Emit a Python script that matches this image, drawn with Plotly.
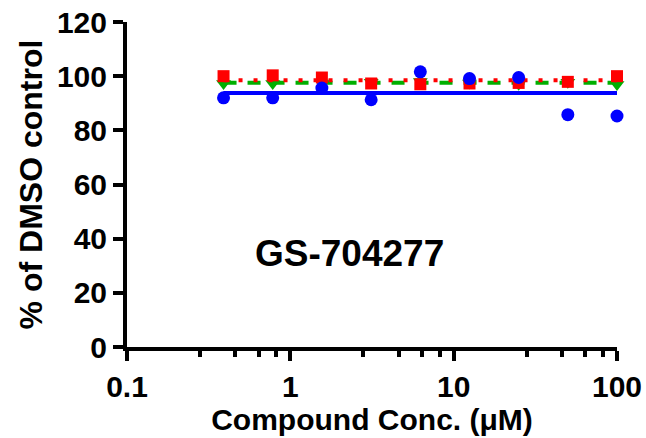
import plotly.graph_objects as go

# Data
conc = [0.39, 0.78, 1.56, 3.125, 6.25, 12.5, 25, 50, 100]
blue_vals = [92.0, 92.0, 95.6, 91.3, 101.6, 99.1, 99.5, 85.8, 85.3]
red_vals = [100.0, 100.3, 99.5, 97.3, 97.0, 97.3, 97.5, 97.9, 100.0]
green_vals = [97.3, 97.3, 97.5, 97.8, 98.0, 97.5, 97.0, 97.8, 96.9]
blue_fit = 93.8
red_fit = 98.5
green_fit = 97.6
fit_x = [0.39, 100]

x_tickvals = [0.1, 1, 10, 100]
x_ticktext = ["0.1", "1", "10", "100"]
x_minor = [d * m for d in [0.1, 1, 10] for m in [2.8, 4.6, 6.4, 8.2]]
y_tickvals = [0, 20, 40, 60, 80, 100, 120]

FONT = "Liberation Sans, Arial, Helvetica, sans-serif"

fig = go.Figure()

fig.add_trace(go.Scatter(x=conc, y=green_vals, mode="markers",
                         marker=dict(symbol="triangle-down", size=13, color="#00B000"),
                         showlegend=False, cliponaxis=False))
fig.add_trace(go.Scatter(x=fit_x, y=[green_fit] * len(fit_x), mode="lines",
                         line=dict(color="#00B000", width=4, dash="13px,11px"),
                         showlegend=False))
fig.add_trace(go.Scatter(x=conc, y=red_vals, mode="markers",
                         marker=dict(symbol="square", size=12, color="#FF0000"),
                         showlegend=False, cliponaxis=False))
fig.add_trace(go.Scatter(x=fit_x, y=[red_fit] * len(fit_x), mode="lines",
                         line=dict(color="#FF0000", width=4, dash="4px,11px"),
                         showlegend=False))
fig.add_trace(go.Scatter(x=fit_x, y=[blue_fit] * len(fit_x), mode="lines",
                         line=dict(color="#0000FF", width=4),
                         showlegend=False))
fig.add_trace(go.Scatter(x=conc, y=blue_vals, mode="markers",
                         marker=dict(symbol="circle", size=13, color="#0000FF"),
                         showlegend=False, cliponaxis=False))

fig.add_annotation(x=0.361, y=34.6, xref="x", yref="y", text="GS-704277",
                   showarrow=False,
                   font=dict(family=FONT, size=37, color="black", weight="bold"))

fig.update_xaxes(type="log", range=[-1, 2],
                 tickmode="array", tickvals=x_tickvals, ticktext=x_ticktext,
                 showline=True, linewidth=4, linecolor="black",
                 ticks="outside", ticklen=10, tickwidth=4, tickcolor="black",
                 minor=dict(tickmode="array", tickvals=x_minor, ticks="outside",
                            ticklen=6, tickwidth=4, tickcolor="black", showgrid=False),
                 showgrid=False, zeroline=False, ticklabeloverflow="allow",
                 tickfont=dict(family=FONT, size=30, color="black", weight="bold"),
                 title=dict(text="Compound Conc. (μM)", standoff=4,
                            font=dict(family=FONT, size=30, color="black", weight="bold")))
fig.update_yaxes(range=[0, 120], tickmode="array", tickvals=y_tickvals,
                 showline=True, linewidth=4, linecolor="black",
                 ticks="outside", ticklen=10, tickwidth=4, tickcolor="black",
                 showgrid=False, zeroline=False, ticklabeloverflow="allow",
                 tickfont=dict(family=FONT, size=30, color="black", weight="bold"),
                 title=dict(text="% of DMSO control", standoff=6,
                            font=dict(family=FONT, size=32, color="black", weight="bold")))

fig.update_layout(width=646, height=438,
                  margin=dict(l=127, r=29, t=22, b=91, autoexpand=False),
                  plot_bgcolor="white", paper_bgcolor="white",
                  showlegend=False)

# remove the default page margin so the figure fills the window without scrollbars
fig.write_html("out.html",
               config={"displayModeBar": False},
               post_script="document.body.style.margin='0';"
                           "document.body.style.overflow='hidden';")
